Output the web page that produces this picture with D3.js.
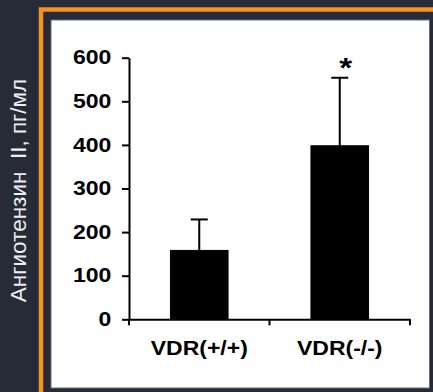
<!DOCTYPE html>
<html>
<head>
<meta charset="utf-8">
<script src="https://cdn.jsdelivr.net/npm/d3@7"></script>
<style>
  html, body { margin: 0; padding: 0; background: #272b38; }
  svg { display: block; }
</style>
</head>
<body>
<div id="chart"></div>
<script>
// data
let categories = ["VDR(+/+)", "VDR(-/-)"];
let means = [158, 398];
let errors = [71, 156];
let marks = ["", "*"];
let yTicks = [0, 100, 200, 300, 400, 500, 600];
let yLabel = "Ангиотензин  II, пг/мл";

let W = 433, H = 392;
let font = "'Liberation Sans', Arial, sans-serif";
let stretch = "scale(1.18,1)";

let svg = d3.select("#chart").append("svg")
    .attr("width", W)
    .attr("height", H);

svg.append("rect")
    .attr("width", W).attr("height", H)
    .attr("fill", "#272b38");

// orange frame (runs off to the right and bottom)
svg.append("rect")
    .attr("x", 41).attr("y", 9.5)
    .attr("width", 420).attr("height", 420)
    .attr("fill", "none")
    .attr("stroke", "#f7941d")
    .attr("stroke-width", 4.5);

// white panel
svg.append("rect")
    .attr("x", 51).attr("y", 20)
    .attr("width", 378.5).attr("height", 368)
    .attr("fill", "#ffffff")
    .attr("stroke", "#6b6f7a")
    .attr("stroke-width", 1);

// y label on the dark strip
svg.append("text")
    .attr("transform", "translate(25.5," + 190.5 + ") rotate(-90)")
    .attr("text-anchor", "middle")
    .attr("fill", "#eeeeee")
    .style("white-space", "pre")
    .style("font-family", font)
    .style("font-size", "22.5px")
    .text(yLabel);

// scales
let x = d3.scaleBand().domain(categories).range([129, 410]).padding(0);
let y = d3.scaleLinear().domain([0, 600]).range([319.3, 57.7]);

let bw = x.bandwidth();
let barW = bw * 0.41;
let capW = 17;

let data = categories.map(function(c, i){
    return {cat: c, mean: means[i], err: errors[i], mark: marks[i]};
});

// error bars (upper only)
svg.selectAll(".err")
    .data(data)
    .enter()
    .append("line")
    .attr("class", "err")
    .attr("x1", function(d){ return x(d.cat) + bw / 2; })
    .attr("x2", function(d){ return x(d.cat) + bw / 2; })
    .attr("y1", function(d){ return y(d.mean); })
    .attr("y2", function(d){ return y(d.mean + d.err); })
    .attr("stroke", "#000").attr("stroke-width", 2);

svg.selectAll(".cap")
    .data(data)
    .enter()
    .append("line")
    .attr("class", "cap")
    .attr("x1", function(d){ return x(d.cat) + bw / 2 - capW / 2; })
    .attr("x2", function(d){ return x(d.cat) + bw / 2 + capW / 2; })
    .attr("y1", function(d){ return y(d.mean + d.err); })
    .attr("y2", function(d){ return y(d.mean + d.err); })
    .attr("stroke", "#000").attr("stroke-width", 2);

// bars
svg.selectAll(".bar")
    .data(data)
    .enter()
    .append("rect")
    .attr("class", "bar")
    .attr("x", function(d){ return x(d.cat) + (bw - barW) / 2; })
    .attr("width", barW)
    .attr("y", function(d){ return y(d.mean); })
    .attr("height", function(d){ return y(0) - y(d.mean); })
    .attr("fill", "#000")
    .attr("stroke", "#000")
    .attr("stroke-width", 1);

// significance mark
svg.selectAll(".mark")
    .data(data)
    .enter()
    .append("text")
    .attr("class", "mark")
    .attr("transform", function(d){
        return "translate(" + (x(d.cat) + bw / 2 + 6) + "," + (y(d.mean + d.err) - 1) + ") " + stretch;
    })
    .attr("text-anchor", "middle")
    .style("font-family", font)
    .style("font-weight", "bold")
    .style("font-size", "28px")
    .text(function(d){ return d.mark; });

// y axis
let yAxis = svg.append("g")
    .attr("transform", "translate(129,0)")
    .call(d3.axisLeft(y).tickValues(yTicks).tickSize(7).tickSizeOuter(0).tickPadding(8));
yAxis.selectAll("path, line").attr("stroke", "#000").attr("stroke-width", 2);
yAxis.selectAll("text")
    .attr("transform", stretch)
    .attr("fill", "#000")
    .style("font-family", font)
    .style("font-weight", "bold")
    .style("font-size", "19.5px");

// x axis
let xAxis = svg.append("g")
    .attr("transform", "translate(0," + y(0) + ")")
    .call(d3.axisBottom(x).tickSize(0).tickSizeOuter(0).tickPadding(22));
xAxis.select(".domain").attr("stroke", "#000").attr("stroke-width", 2);
xAxis.selectAll("text")
    .attr("transform", stretch)
    .attr("fill", "#000")
    .style("font-family", font)
    .style("font-weight", "bold")
    .style("font-size", "19.5px");

// ticks at the band edges
let edges = [x.range()[0]].concat(categories.map(function(c){ return x(c) + bw; }));
xAxis.selectAll(".edge")
    .data(edges)
    .enter()
    .append("line")
    .attr("class", "edge")
    .attr("x1", function(d){ return d; })
    .attr("x2", function(d){ return d; })
    .attr("y1", 0)
    .attr("y2", 6)
    .attr("stroke", "#000").attr("stroke-width", 2);
</script>
</body>
</html>
